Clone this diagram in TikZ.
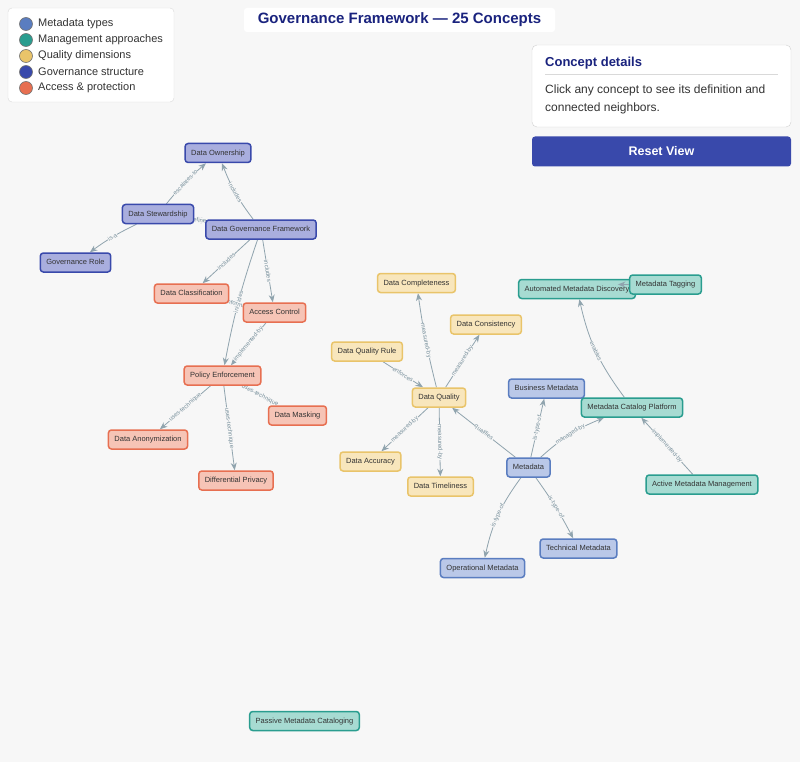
\documentclass[tikz,border=0pt]{standalone}
\usepackage{fontspec}
\setmainfont{Liberation Sans}
\usetikzlibrary{arrows.meta}
\pgfdeclarelayer{bg}
\pgfdeclarelayer{edges}
\pgfsetlayers{bg,edges,main}
\definecolor{page}{HTML}{F7F7F7}
\definecolor{govfill}{HTML}{A9AEDE}
\definecolor{govdot}{HTML}{3949AB}
\definecolor{accfill}{HTML}{F6C4B6}
\definecolor{accdot}{HTML}{E76F51}
\definecolor{qualfill}{HTML}{F8E6BC}
\definecolor{qualdot}{HTML}{E9C46A}
\definecolor{metafill}{HTML}{BAC8E8}
\definecolor{metadot}{HTML}{5A7DC0}
\definecolor{mgmtfill}{HTML}{A7DBD2}
\definecolor{mgmtdot}{HTML}{2A9D8F}
\definecolor{linkgray}{HTML}{90A4AE}
\definecolor{lblgray}{HTML}{78909C}
\definecolor{navy}{HTML}{1A237E}
\begin{document}
\begin{tikzpicture}
[x=1pt,y=-1pt,%
  concept/.style={draw,rounded corners=3pt,line width=1.5pt,minimum height=19pt,%
    inner xsep=6pt,inner ysep=0pt,text height=5pt,text depth=0.4pt,%
    font=\fontsize{7.5}{9}\selectfont,text=black!80},%
  gov/.style={concept,fill=govfill,draw=govdot},%
  acc/.style={concept,fill=accfill,draw=accdot},%
  qual/.style={concept,fill=qualfill,draw=qualdot},%
  meta/.style={concept,fill=metafill,draw=metadot},%
  mgmt/.style={concept,fill=mgmtfill,draw=mgmtdot},%
  link/.style={draw=linkgray,line width=0.8pt,-{Stealth[length=7.5pt,width=6pt]}},%
  lbl/.style={font=\fontsize{6}{6}\selectfont,text=lblgray,sloped,fill=page,inner sep=0.4pt},%
  swatch/.style={circle,draw=black!55,line width=0.6pt,minimum size=13pt,inner sep=0pt},%
  legendtext/.style={anchor=west,font=\fontsize{11}{13}\selectfont,text=black!80,inner sep=0pt}]
\useasboundingbox (0,0) rectangle (800,762);
\begin{pgfonlayer}{bg}
\fill[page] (0,0) rectangle (800,762);
\end{pgfonlayer}

% legend
\draw[black!15,fill=white,rounded corners=4pt] (8,8) rectangle (174,102);
\foreach \y/\c/\t [count=\i] in {24/metadot/Metadata types,40/mgmtdot/Management approaches,%
  56/qualdot/Quality dimensions,72/govdot/Governance structure,88/accdot/Access \& protection}
{
  \node[swatch,fill=\c] (sw\i) at (26,\y) {};
  \node[legendtext] (lg\i) at (38,\y) {\t};
}

% title and side panel
\node[fill=white,rounded corners=3pt,minimum width=311pt,minimum height=24pt,%
  font=\bfseries\fontsize{15}{18}\selectfont,text=navy] (title) at (399.5,20)
  {Governance Framework — 25 Concepts};
\draw[black!18,fill=white,rounded corners=5pt] (532,45) rectangle (791,127);
\node[anchor=base west,inner sep=0pt,font=\bfseries\fontsize{13}{15}\selectfont,text=navy]
  (dethead) at (545,67) {Concept details};
\draw[black!15] (545,74) -- (778,74);
\node[anchor=base west,inner sep=0pt,font=\fontsize{12}{14}\selectfont,text=black!80]
  (detline1) at (545,93.5) {Click any concept to see its definition and};
\node[anchor=base west,inner sep=0pt,font=\fontsize{12}{14}\selectfont,text=black!80]
  (detline2) at (545,111.5) {connected neighbors.};
\node[fill=govdot,rounded corners=3pt,minimum width=259pt,minimum height=30pt,text=white,%
  font=\bfseries\fontsize{12.5}{15}\selectfont] (reset) at (661.5,151.5) {Reset View};

% concepts
\node[gov] (own) at (218,153) {Data Ownership};
\node[gov] (stew) at (158,214) {Data Stewardship};
\node[gov] (dgf) at (261,229.5) {Data Governance Framework};
\node[gov] (role) at (75.5,262.5) {Governance Role};
\node[acc] (class) at (191.5,293.5) {Data Classification};
\node[acc] (acl) at (274.5,312.5) {Access Control};
\node[acc] (pol) at (222.5,375.5) {Policy Enforcement};
\node[acc] (mask) at (297.5,415.5) {Data Masking};
\node[acc] (anon) at (148,439.5) {Data Anonymization};
\node[acc] (dp) at (236,480.5) {Differential Privacy};
\node[qual] (compl) at (416.5,283) {Data Completeness};
\node[qual] (consis) at (486,324.5) {Data Consistency};
\node[qual] (dqr) at (367,351.5) {Data Quality Rule};
\node[qual] (dq) at (439,397.5) {Data Quality};
\node[qual] (accur) at (370.5,461.5) {Data Accuracy};
\node[qual] (time) at (440.5,486.5) {Data Timeliness};
\node[mgmt] (amd) at (577,289) {Automated Metadata Discovery};
\node[mgmt] (tag) at (665.5,284.5) {Metadata Tagging};
\node[meta] (bus) at (546.5,388.5) {Business Metadata};
\node[mgmt] (mcp) at (632,407.5) {Metadata Catalog Platform};
\node[meta] (md) at (528.5,467.5) {Metadata};
\node[mgmt] (amm) at (702,484.5) {Active Metadata Management};
\node[meta] (tech) at (578.5,548.5) {Technical Metadata};
\node[meta] (ops) at (482.5,568) {Operational Metadata};
\node[mgmt] (pmc) at (304.5,721) {Passive Metadata Cataloging};

% relations
\begin{pgfonlayer}{edges}
\draw[link] (stew) to[bend left=5] node[lbl]{escalates-to} (own);
\draw[link] (dgf) to[bend left=8] node[lbl]{includes} (own);
\draw[link] (dgf) to node[lbl]{defines} (stew);
\draw[link] (stew) to[bend right=5] node[lbl]{is-a} (role);
\draw[link] (dgf) to node[lbl]{includes} (class);
\draw[link] (dgf) to node[lbl]{includes} (acl);
\draw[link] (dgf) to[bend right=4] node[lbl]{includes} (pol);
\draw[link] (class) to node[lbl]{informs} (acl);
\draw[link] (acl) to node[lbl]{implemented-by} (pol);
\draw[link] (pol) to node[lbl]{uses-technique} (anon);
\draw[link] (pol) to node[lbl]{uses-technique} (dp);
\draw[link] (pol) to node[lbl]{uses-technique} (mask);
\draw[link] (dq) to[bend left=3] node[lbl]{measured-by} (compl);
\draw[link] (dq) to node[lbl]{measured-by} (consis);
\draw[link] (dqr) to node[lbl]{enforces} (dq);
\draw[link] (dq) to node[lbl]{measured-by} (accur);
\draw[link] (dq) to node[lbl]{measured-by} (time);
\draw[link] (md) to node[lbl]{qualifies} (dq);
\draw[link] (md) to node[lbl]{is-type-of} (bus);
\draw[link] (md) to[bend left=10] node[lbl]{managed-by} (mcp);
\draw[link] (mcp) to[bend left=12] node[lbl]{enables} (amd);
\draw[link] (amm) to node[lbl]{implemented-by} (mcp);
\draw[link] (md) to[bend right=12] node[lbl]{is-type-of} (ops);
\draw[link] (md) to[bend left=4] node[lbl]{is-type-of} (tech);
\end{pgfonlayer}
\coordinate (tagtip) at ([xshift=-11pt]tag.west);
\draw[link] (tag.west) -- (tagtip);
\end{tikzpicture}
\end{document}
